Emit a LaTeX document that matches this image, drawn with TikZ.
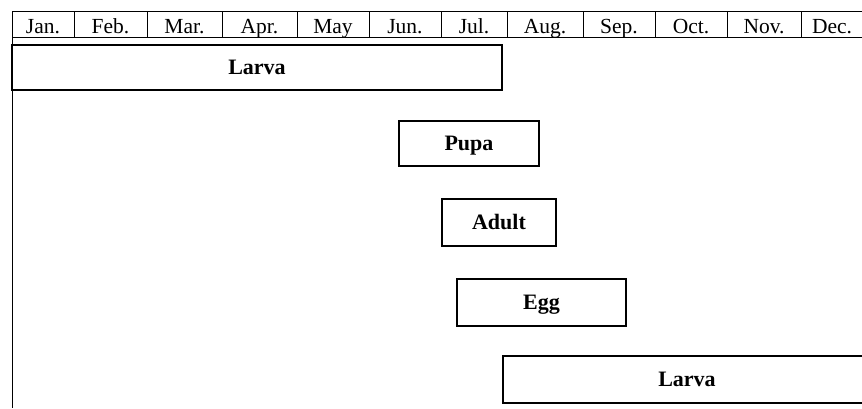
\documentclass[tikz,border=0pt]{standalone}
\usepackage{fontspec}
\setmainfont{Liberation Serif}
\begin{document}
\begin{tikzpicture}[x=1pt,y=-1pt,
  month/.style={inner sep=0pt,anchor=base,font=\fontsize{21.5}{25}\selectfont},
  stage/.style={draw,line width=1.6pt,inner sep=0pt,text height=14.6pt,text depth=0pt,font=\fontsize{22}{26}\selectfont\bfseries},
  grid/.style={line width=1pt}]
\useasboundingbox (0,0) rectangle (862,409);
% header lines
\coordinate (htl) at (12,12);
\coordinate (htr) at (870,12);
\coordinate (hbl) at (12,38);
\coordinate (hbr) at (870,38);
\coordinate (vb) at (12,408);
\draw[grid] (htl) -- (htr);
\draw[grid] (hbl) -- (hbr);
\draw[grid] (htl) -- (vb);
\foreach \x in {74,147,222,297,369,441,507,583,655,727,801}
  \draw[grid] (\x,12) -- (\x,38);
% month labels
\node[month] (jan) at (43,33.3) {Jan.};
\node[month] (feb) at (110.5,33.3) {Feb.};
\node[month] (mar) at (184.5,33.3) {Mar.};
\node[month] (apr) at (259.5,33.3) {Apr.};
\node[month] (may) at (333,33.3) {May};
\node[month] (jun) at (405,33.3) {Jun.};
\node[month] (jul) at (474,33.3) {Jul.};
\node[month] (aug) at (545,33.3) {Aug.};
\node[month] (sep) at (619,33.3) {Sep.};
\node[month] (oct) at (691,33.3) {Oct.};
\node[month] (nov) at (764,33.3) {Nov.};
\node[month] (dec) at (832,33.3) {Dec.};
% stages
\node[stage,minimum width=490pt,minimum height=45pt] (larva1) at (257,67.5) {Larva};
\node[stage,minimum width=140pt,minimum height=45pt] (pupa) at (469,143.5) {Pupa};
\node[stage,minimum width=114pt,minimum height=47pt] (adult) at (499,222.5) {Adult};
\node[stage,minimum width=169pt,minimum height=47pt] (egg) at (541.5,302.5) {Egg};
\node[stage,minimum width=368pt,minimum height=47pt] (larva2) at (687,379.5) {Larva};
\end{tikzpicture}
\end{document}
